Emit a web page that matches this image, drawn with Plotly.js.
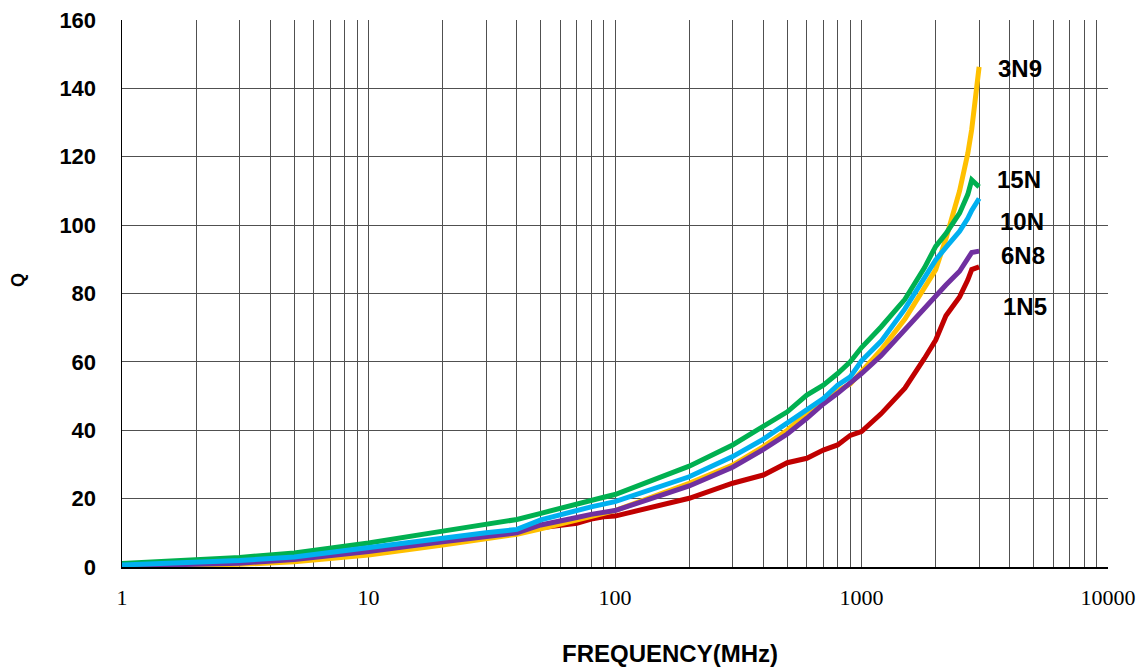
<!DOCTYPE html>
<html>
<head>
<meta charset="utf-8">
<script src="https://cdn.plot.ly/plotly-3.0.1.min.js"></script>
<style>html,body{margin:0;padding:0;background:#fff;}#chart{width:1141px;height:668px;}</style>
</head>
<body>
<div id="chart"></div>
<script>
// Frequencies (MHz)
const freq = [1,2,3,5,10,20,30,40,50,60,70,80,90,100,200,300,400,500,600,700,800,900,1000,1200,1500,1800,2000,2200,2500,2700,2800,3000];

// Q values per inductor
const q15N = [1.0,2.0,2.8,4.1,7.0,10.5,12.5,13.9,15.7,17.2,18.6,19.8,20.4,21.2,29.5,35.7,41.0,45.4,50.3,53.2,56.6,60.0,64.2,70.2,78.3,87.5,93.8,97.5,103.5,109.0,113.2,111.2];
const q10N = [0.6,1.4,1.9,2.9,5.5,8.4,10.0,11.0,13.8,15.4,16.5,17.6,18.4,19.1,26.4,32.3,37.4,42.0,45.9,49.3,53.2,55.6,60.3,66.0,75.5,84.5,89.8,93.5,98.2,102.0,104.3,107.8];
const q3N9 = [0.2,0.5,0.8,1.5,3.5,6.4,8.1,9.6,11.2,12.6,13.5,14.5,15.5,16.5,24.5,29.8,35.2,40.0,45.0,48.6,51.6,53.5,57.2,63.5,72.5,81.5,87.0,96.0,110.0,121.0,128.0,146.3];
const q6N8 = [0.3,0.7,1.1,2.2,4.5,7.4,8.8,10.0,12.3,13.3,14.5,15.4,16.0,16.5,23.7,29.2,34.4,38.9,43.5,47.7,50.8,53.7,56.6,61.8,69.5,75.5,79.0,82.5,86.5,90.0,92.0,92.4];
const q1N5 = [0.2,0.6,1.0,2.0,4.3,7.2,8.8,10.2,11.5,12.3,12.8,14.0,14.7,14.9,20.1,24.5,26.9,30.5,31.8,34.2,35.7,38.5,39.6,44.8,52.3,61.0,66.4,73.5,79.0,84.0,87.0,87.8];

const seriesNames = ["1N5","3N9","6N8","15N","10N"];
const seriesColors = ["#C00000","#FFC000","#7030A0","#00B050","#00B0F0"];
const seriesValues = [q1N5,q3N9,q6N8,q15N,q10N];

// Axis ticks
const xTickVals = [1,2,3,4,5,6,7,8,9,10,20,30,40,50,60,70,80,90,100,200,300,400,500,600,700,800,900,1000,2000,3000,4000,5000,6000,7000,8000,9000,10000];
const xTickText = xTickVals.map(v => [1,10,100,1000,10000].includes(v) ? String(v) : "");

// Curve labels (order top to bottom)
const labelTexts = ["3N9","15N","10N","6N8","1N5"];
const labelPx = [[1020,68],[1019,179],[1022,222],[1023,255],[1025,306]];

const L = 122, R = 33, T = 20, B = 101, W = 1141, H = 668;
const pw = W - L - R, ph = H - T - B;
const px2x = p => (p - L) / pw;
const py2y = p => (H - B - p) / ph;

const traces = seriesNames.map((n, i) => ({
  x: freq, y: seriesValues[i], name: n, type: "scatter", mode: "lines",
  line: {color: seriesColors[i], width: 5, shape: "linear"},
  hoverinfo: "skip"
}));

const annotations = labelTexts.map((t, i) => ({
  text: "<b>" + t + "</b>", xref: "paper", yref: "paper",
  x: px2x(labelPx[i][0]), y: py2y(labelPx[i][1]),
  xanchor: "center", yanchor: "middle", showarrow: false,
  font: {family: "Liberation Sans, Arial, sans-serif", size: 24, color: "#000"}
}));
annotations.push({
  text: "<b>FREQUENCY(MHz)</b>", xref: "paper", yref: "paper",
  x: px2x(670), y: py2y(653), xanchor: "center", yanchor: "middle", showarrow: false,
  font: {family: "Liberation Sans, Arial, sans-serif", size: 24, color: "#000"}
});
annotations.push({
  text: "<b>Q</b>", xref: "paper", yref: "paper",
  x: px2x(18), y: py2y(280), xanchor: "center", yanchor: "middle", showarrow: false,
  textangle: -90,
  font: {family: "Liberation Sans, Arial, sans-serif", size: 18, color: "#000"}
});

const layout = {
  width: W, height: H,
  margin: {l: L, r: R, t: T, b: B, pad: 0},
  paper_bgcolor: "#fff", plot_bgcolor: "#fff",
  showlegend: false,
  xaxis: {
    type: "log", range: [0, 4], tickmode: "array",
    tickvals: xTickVals, ticktext: xTickText,
    showgrid: true, gridcolor: "#505050", gridwidth: 1,
    showline: true, linecolor: "#000", linewidth: 1.5,
    zeroline: false, ticks: "",
    ticklabelstandoff: 10,
    tickfont: {family: "Liberation Serif, Times New Roman, serif", size: 22, color: "#000"}
  },
  yaxis: {
    range: [0, 160], tick0: 0, dtick: 20,
    showgrid: true, gridcolor: "#505050", gridwidth: 1,
    showline: true, linecolor: "#000", linewidth: 1.5,
    zeroline: false, ticks: "",
    ticklabelstandoff: 20,
    tickfont: {family: "Liberation Sans, Arial, sans-serif", size: 22, color: "#000", weight: "bold"}
  },
  annotations: annotations
};

Plotly.newPlot("chart", traces, layout, {displayModeBar: false, staticPlot: true});
</script>
</body>
</html>
